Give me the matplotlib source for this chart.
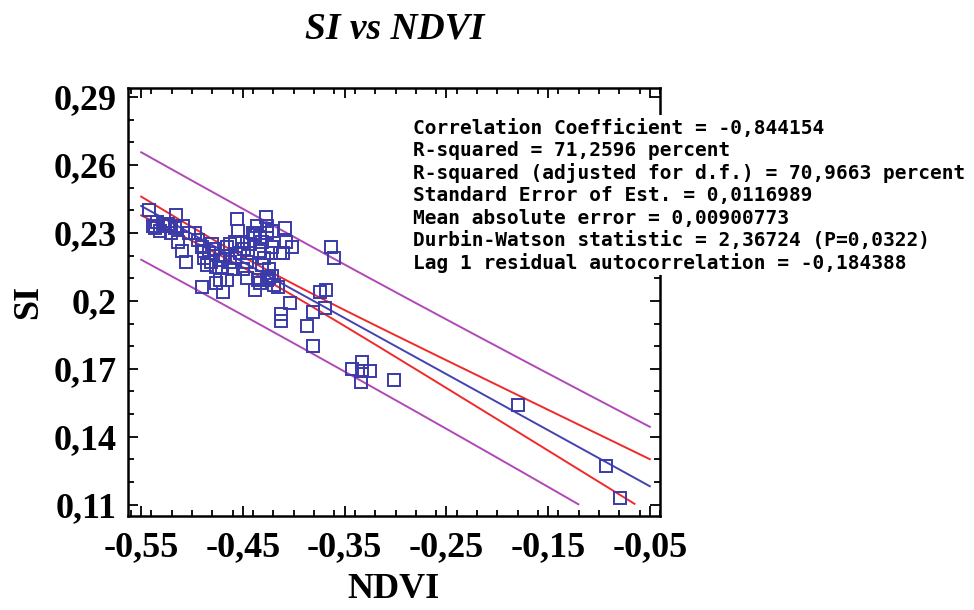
import numpy as np
import matplotlib
matplotlib.use('Agg')
import matplotlib.pyplot as plt
from matplotlib.patches import Rectangle
from matplotlib.ticker import FuncFormatter, MultipleLocator

# valores (NDVI, SI)
ndvi = [-0.542, -0.538, -0.536, -0.534, -0.529, -0.527, -0.524, -0.522, -0.516, -0.521,
        -0.517, -0.514, -0.509, -0.510, -0.506, -0.497, -0.494, -0.490, -0.488, -0.485,
        -0.481, -0.478, -0.476, -0.473, -0.471, -0.468, -0.466, -0.463, -0.458, -0.458,
        -0.456, -0.455, -0.453, -0.451, -0.449, -0.446, -0.445, -0.440, -0.438, -0.436,
        -0.433, -0.433, -0.431, -0.431, -0.427, -0.426, -0.426, -0.422, -0.421, -0.421,
        -0.414, -0.411, -0.409, -0.402, -0.490, -0.476, -0.473, -0.470, -0.466, -0.460,
        -0.446, -0.438, -0.435, -0.433, -0.426, -0.424, -0.421, -0.419, -0.416, -0.424,
        -0.374, -0.368, -0.363, -0.360, -0.369, -0.381, -0.404, -0.413, -0.413, -0.387,
        -0.381, -0.343, -0.333, -0.333, -0.325, -0.334, -0.301, -0.180, -0.093, -0.079,
        -0.483, -0.463, -0.443, -0.429, -0.450, -0.488, -0.480, -0.532, -0.503, -0.408]
si = [0.240, 0.233, 0.232, 0.235, 0.234, 0.233, 0.234, 0.233, 0.238, 0.230,
      0.232, 0.226, 0.233, 0.222, 0.217, 0.230, 0.227, 0.224, 0.222, 0.216,
      0.217, 0.223, 0.215, 0.218, 0.215, 0.220, 0.224, 0.225, 0.226, 0.219,
      0.236, 0.231, 0.221, 0.226, 0.223, 0.217, 0.221, 0.230, 0.229, 0.233,
      0.228, 0.222, 0.226, 0.216, 0.237, 0.233, 0.230, 0.221, 0.231, 0.224,
      0.221, 0.221, 0.232, 0.224, 0.206, 0.208, 0.209, 0.204, 0.209, 0.214,
      0.210, 0.205, 0.209, 0.208, 0.209, 0.214, 0.211, 0.207, 0.206, 0.210,
      0.204, 0.205, 0.224, 0.219, 0.197, 0.195, 0.199, 0.194, 0.191, 0.189,
      0.180, 0.170, 0.173, 0.169, 0.169, 0.164, 0.165, 0.154, 0.127, 0.113,
      0.221, 0.217, 0.225, 0.219, 0.214, 0.219, 0.225, 0.231, 0.230, 0.226]

estadisticos = [
    'Correlation Coefficient = -0,844154',
    'R-squared = 71,2596 percent',
    'R-squared (adjusted for d.f.) = 70,9663 percent',
    'Standard Error of Est. = 0,0116989',
    'Mean absolute error = 0,00900773',
    'Durbin-Watson statistic = 2,36724 (P=0,0322)',
    'Lag 1 residual autocorrelation = -0,184388',
]

x_ticks = [-0.55, -0.45, -0.35, -0.25, -0.15, -0.05]
y_ticks = [0.11, 0.14, 0.17, 0.2, 0.23, 0.26, 0.29]
t_95 = 1.9845  # t de student, 98 g.l.

x = np.array(ndvi)
y = np.array(si)
n = len(x)

# ajuste lineal y bandas de confianza / prediccion
b, a = np.polyfit(x, y, 1)
resid = y - (a + b * x)
s = np.sqrt(np.sum(resid**2) / (n - 2))
sxx = np.sum((x - x.mean())**2)

xl = np.linspace(x_ticks[0], x_ticks[-1], 300)
yl = a + b * xl
conf = t_95 * s * np.sqrt(1 / n + (xl - x.mean())**2 / sxx)
pred = t_95 * s * np.sqrt(1 + 1 / n + (xl - x.mean())**2 / sxx)


def recorta(v):
    v = v.copy()
    v[v < y_ticks[0]] = np.nan
    return v


fig = plt.figure(figsize=(9.74, 6.10), dpi=100)
ax = fig.add_axes([0.1314, 0.1541, 0.5462, 0.7016])

ax.plot(xl, recorta(yl + pred), color='#b048b8', lw=1.4)
ax.plot(xl, recorta(yl - pred), color='#b048b8', lw=1.4)
ax.plot(xl, recorta(yl + conf), color='#f02a2a', lw=1.4)
ax.plot(xl, recorta(yl - conf), color='#f02a2a', lw=1.4)
ax.plot(xl, recorta(yl), color='#4343b0', lw=1.4)
ax.plot(x, y, 's', ms=8, mfc='none', mec='#3a3aa8', mew=1.4)

ax.set_xlim(-0.563, -0.04)
ax.set_ylim(0.105, 0.294)
ax.set_xticks(x_ticks)
ax.set_yticks(y_ticks)
ax.xaxis.set_minor_locator(MultipleLocator(0.02))
ax.yaxis.set_minor_locator(MultipleLocator(0.01))

coma = FuncFormatter(lambda v, p: f'{v:g}'.replace('.', ','))
ax.xaxis.set_major_formatter(coma)
ax.yaxis.set_major_formatter(coma)

fuente = {'family': 'Liberation Serif', 'weight': 'bold', 'size': 26}
for lab in ax.get_xticklabels() + ax.get_yticklabels():
    lab.set_fontproperties(matplotlib.font_manager.FontProperties(**fuente))

ax.tick_params(which='both', direction='in', top=True, right=True, width=1.3)
ax.tick_params(which='major', length=7, pad=8)
ax.tick_params(axis='x', which='major', pad=11)
ax.tick_params(which='minor', length=4)
for sp in ax.spines.values():
    sp.set_linewidth(1.8)

ax.set_xlabel('NDVI', fontdict=fuente, labelpad=6)
ax.set_ylabel('SI', fontdict=fuente, labelpad=6)
fig.text(0.405, 0.952, 'SI vs NDVI', ha='center', va='center',
         family='Liberation Serif', weight='bold', style='italic', size=27)

# fondo blanco del cuadro de estadisticos (tapa el marco)
fig.add_artist(Rectangle((0.419, 0.549), 0.58, 0.263, transform=fig.transFigure,
                         facecolor='white', edgecolor='none', zorder=3))
for i, linea in enumerate(estadisticos):
    fig.text(0.424, 0.79 - i * 0.0369, linea, ha='left', va='center',
             family='DejaVu Sans Mono', weight='bold', size=14, zorder=4)

fig.savefig('out.png', dpi=100)
